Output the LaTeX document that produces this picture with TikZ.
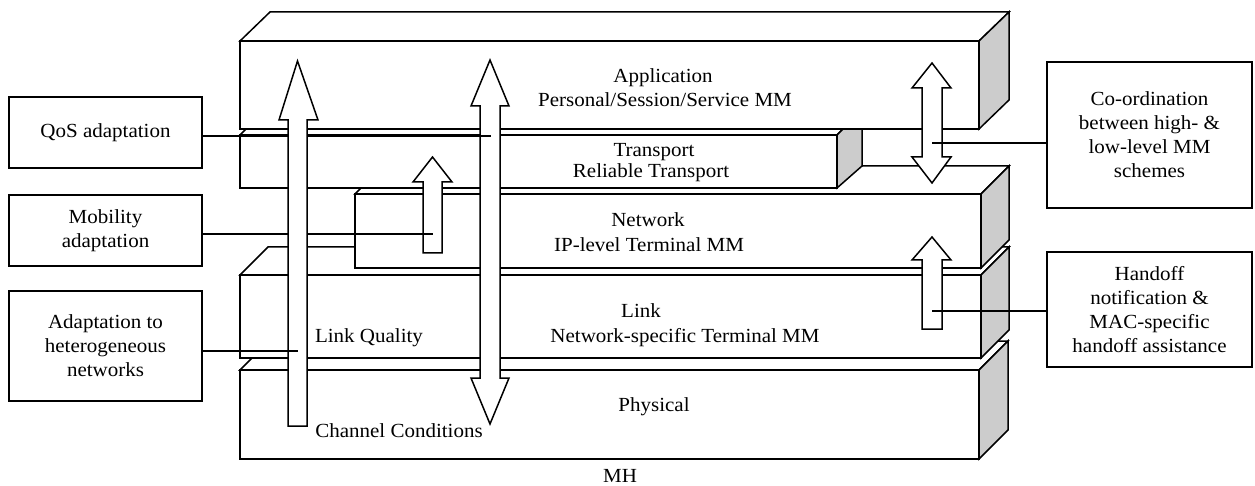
\documentclass[tikz,border=0pt]{standalone}
\usepackage{fontspec}
\setmainfont{Liberation Serif}[FakeStretch=1.05]
\begin{document}
\begin{tikzpicture}[x=1pt,y=-1pt,
  every node/.style={font=\fontsize{20}{24}\selectfont},
  slab/.style={draw=black,fill=white,line width=1.5pt,line join=miter},
  side/.style={draw=black,fill=gray!40,line width=1.5pt,line join=miter},
  arr/.style={draw=black,fill=white,line width=1.5pt,line join=miter},
  conn/.style={draw=black,line width=1.2pt},
  box/.style={draw=black,line width=1.5pt,minimum width=193pt,minimum height=71pt,align=center,inner sep=2pt},
  lbl/.style={anchor=base,inner sep=0pt}]
\useasboundingbox (0,0) rectangle (1255,486);

% Physical
\draw[slab] (240,370) -- (269,341) -- (1008,341) -- (979,370) -- cycle;
\draw[slab] (240,370) rectangle (979,459);
\draw[side] (979,370) -- (1008,341) -- (1008,430) -- (979,459) -- cycle;
% Link
\draw[slab] (240,275) -- (268,247) -- (1009,247) -- (981,275) -- cycle;
\draw[slab] (240,275) rectangle (981,358);
\draw[side] (981,275) -- (1009,247) -- (1009,330) -- (981,358) -- cycle;
% Network
\draw[slab] (355,194) -- (383,166) -- (1009,166) -- (981,194) -- cycle;
\draw[slab] (355,194) rectangle (981,268);
\draw[side] (981,194) -- (1009,166) -- (1009,240) -- (981,268) -- cycle;
% Transport
\draw[slab] (240,135) -- (265,110) -- (862,110) -- (837,135) -- cycle;
\draw[slab] (240,135) rectangle (837,188);
\draw[side] (837,135) -- (862,110) -- (862,166) -- (837,188) -- cycle;
% Application
\draw[slab] (240,41) -- (270,12) -- (1009,12) -- (979,41) -- cycle;
\draw[slab] (240,41) rectangle (979,129);
\draw[side] (979,41) -- (1009,12) -- (1009,100) -- (979,129) -- cycle;

% arrows (except the left one)
\draw[arr] (480,106) -- (471,106) -- (490,60) -- (509,106) -- (500,106) -- (500,378) -- (509,378) -- (490,424) -- (471,378) -- (480,378) -- cycle;
\draw[arr] (423,253) -- (423,182) -- (413,182) -- (432.5,157) -- (452,182) -- (442,182) -- (442,253) -- cycle;
\draw[arr] (922,88) -- (912,88) -- (932,63) -- (951,88) -- (942,88) -- (942,157) -- (951,157) -- (932,183) -- (912,157) -- (922,157) -- cycle;
\draw[arr] (922,329) -- (922,260) -- (912,260) -- (932,237) -- (951,260) -- (942,260) -- (942,329) -- cycle;

% boxes
\node[box] (qos) at (105.5,132.5) {QoS adaptation};
\node[box] (mob) at (105.5,230.5) {Mobility\\adaptation};
\node[box,minimum height=110pt] (het) at (105.5,346) {Adaptation to\\heterogeneous\\networks};
\node[box,minimum width=205pt,minimum height=146pt] (coord) at (1149.5,135) {Co-ordination\\between high- \&\\low-level MM\\schemes};
\node[box,minimum width=205pt,minimum height=115pt] (hand) at (1149.5,309.5) {Handoff\\notification \&\\MAC-specific\\handoff assistance};

% connector ends
\coordinate (e1) at (491,136);
\coordinate (e2) at (433,234);
\coordinate (e3) at (298,351);
\coordinate (e4) at (932,143);
\coordinate (e5) at (932,311);

\draw[conn] (qos.east |- e1) -- (e1);
\draw[conn] (mob.east |- e2) -- (e2);

% left arrow
\draw[arr] (288,426) -- (288,120) -- (279,120) -- (297.5,61) -- (318,120) -- (307,120) -- (307,426) -- cycle;

\draw[conn] (het.east |- e3) -- (e3);
\draw[conn] (coord.west |- e4) -- (e4);
\draw[conn] (hand.west |- e5) -- (e5);

% labels
\node[lbl] (app1) at (663,82.7) {Application};
\node[lbl] (app2) at (665,107) {Personal/Session/Service MM};
\node[lbl] (trn1) at (654,157) {Transport};
\node[lbl] (trn2) at (651,178) {Reliable Transport};
\node[lbl] (net1) at (648,227) {Network};
\node[lbl] (net2) at (649,252) {IP-level Terminal MM};
\node[lbl] (lnk1) at (641,317) {Link};
\node[lbl] (lnk2) at (685,342) {Network-specific Terminal MM};
\node[lbl] (phy) at (654,411) {Physical};
\node[lbl] (lq) at (369,342) {Link Quality};
\node[lbl] (cc) at (399,437) {Channel Conditions};
\node[lbl] (mh) at (620,482) {MH};
\end{tikzpicture}
\end{document}
